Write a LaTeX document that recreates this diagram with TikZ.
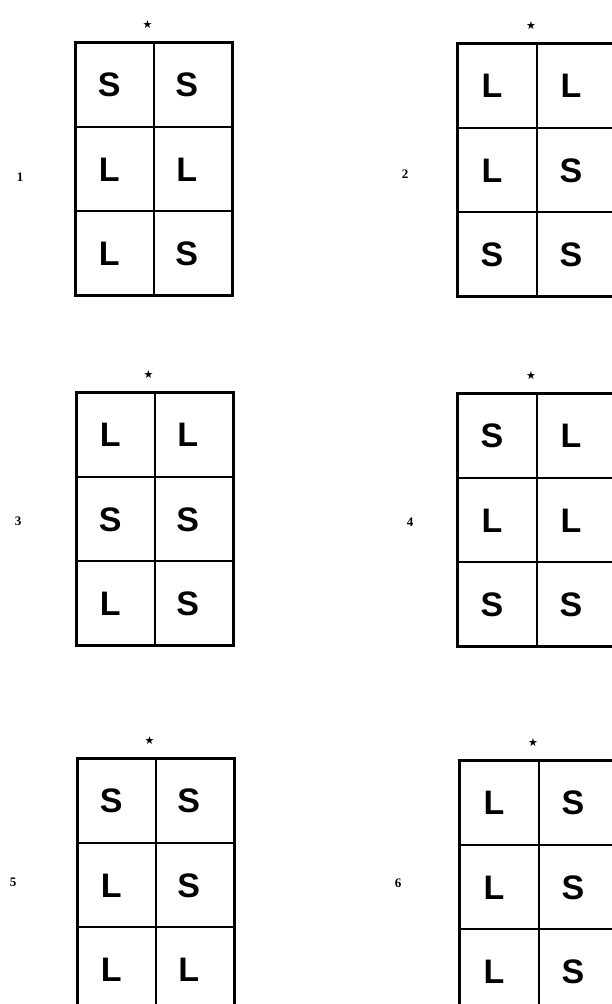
\documentclass[tikz,border=0pt]{standalone}
\usepackage{fontspec}
\setmainfont{Liberation Serif}
\newfontfamily\letterfont{Liberation Sans}
\newfontfamily\symfont{DejaVu Sans}
\tikzset{
  outer/.style={line width=3pt},
  inner/.style={line width=2pt},
  letter/.style={font=\letterfont\bfseries\fontsize{34}{34}\selectfont, inner sep=0pt, anchor=center},
  num/.style={font=\bfseries\fontsize{13}{13}\selectfont, inner sep=0pt},
  starmark/.style={font=\symfont\fontsize{11}{11}\selectfont, inner sep=0pt},
}
% #1 name, #2 left x, #3 top y, #4..#9 letters (row-wise)
\newcommand\lsgrid[9]{%
  \pgfmathsetmacro\gL{#2}\pgfmathsetmacro\gT{#3}%
  \pgfmathsetmacro\gM{\gL+\cw}\pgfmathsetmacro\gR{\gL+2*\cw}%
  \pgfmathsetmacro\gA{\gT+\rh}\pgfmathsetmacro\gB{\gT+2*\rh}\pgfmathsetmacro\gC{\gT+3*\rh}%
  \coordinate (#1-tl) at (\gL,\gT);
  \coordinate (#1-br) at (\gR,\gC);
  \draw[inner] (\gM,\gT) -- (\gM,\gC);
  \draw[inner] (\gL,\gA) -- (\gR,\gA);
  \draw[inner] (\gL,\gB) -- (\gR,\gB);
  \draw[outer] (#1-tl) rectangle (#1-br);
  \node[starmark] (#1-star) at (\gM-6,\gT-17) {★};
  \node[letter] (#1-11) at (\gL+0.5*\cw-5,\gT+0.5*\rh+1) {#4};
  \node[letter] (#1-12) at (\gM+0.5*\cw-6,\gT+0.5*\rh+1) {#5};
  \node[letter] (#1-21) at (\gL+0.5*\cw-5,\gA+0.5*\rh+1) {#6};
  \node[letter] (#1-22) at (\gM+0.5*\cw-6,\gA+0.5*\rh+1) {#7};
  \node[letter] (#1-31) at (\gL+0.5*\cw-5,\gB+0.5*\rh+1) {#8};
  \node[letter] (#1-32) at (\gM+0.5*\cw-6,\gB+0.5*\rh+1) {#9};
}
\begin{document}
\begin{tikzpicture}[x=1pt,y=-1pt]
\useasboundingbox (0,0) rectangle (611,1004);
\fill[white] (0,0) rectangle (611,1004);
\def\rh{84.5}
\def\cw{78.5}
\lsgrid{g1}{75}{42}{S}{S}{L}{L}{L}{S}
\lsgrid{g3}{76}{392}{L}{L}{S}{S}{L}{S}
\lsgrid{g5}{77}{758}{S}{S}{L}{S}{L}{L}
\def\cw{80}
\lsgrid{g2}{457}{43}{L}{L}{L}{S}{S}{S}
\lsgrid{g4}{457}{393}{S}{L}{L}{L}{S}{S}
\lsgrid{g6}{459}{760}{L}{S}{L}{S}{L}{S}
\node[num] (n1) at (20,177) {1};
\node[num] (n2) at (405,174) {2};
\node[num] (n3) at (18,521) {3};
\node[num] (n4) at (410,522) {4};
\node[num] (n5) at (13,882) {5};
\node[num] (n6) at (398,883) {6};
\end{tikzpicture}
\end{document}
